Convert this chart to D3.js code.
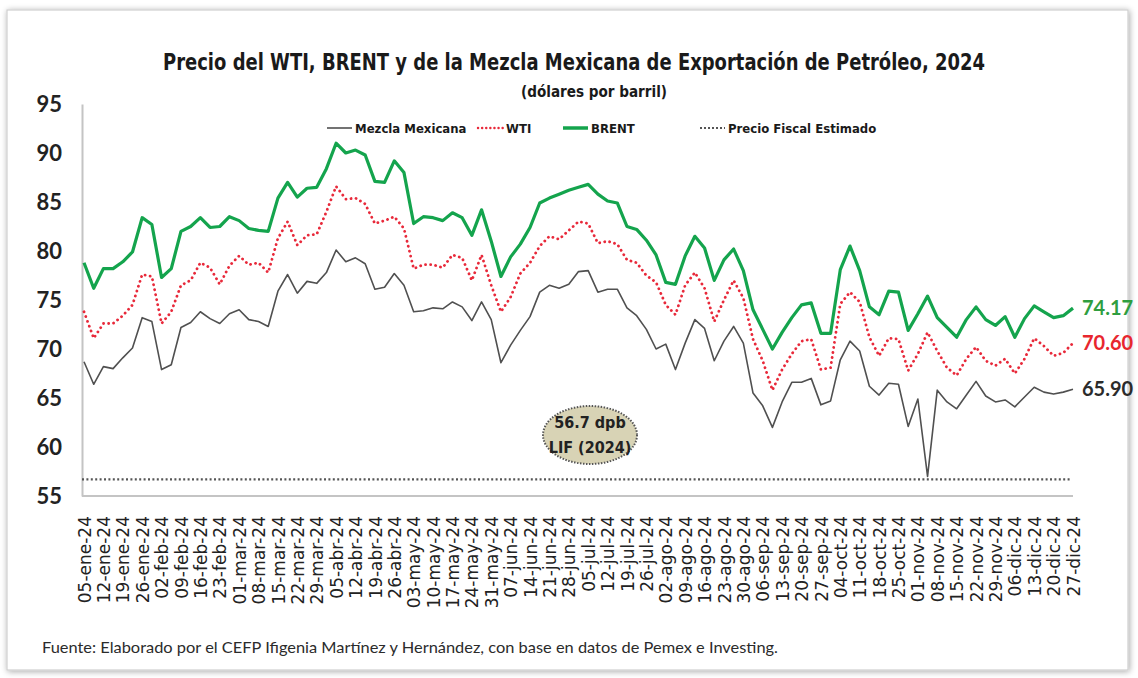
<!DOCTYPE html>
<html>
<head>
<meta charset="utf-8">
<script src="https://cdn.jsdelivr.net/npm/d3@7"></script>
<style>
  body { margin: 0; background: #fff; }
  svg { display: block; }
</style>
</head>
<body>
<div id="chart"></div>
<script>
// weekly tick labels (fridays)
var weekLabels = ["05-ene-24","12-ene-24","19-ene-24","26-ene-24","02-feb-24","09-feb-24","16-feb-24","23-feb-24",
  "01-mar-24","08-mar-24","15-mar-24","22-mar-24","29-mar-24","05-abr-24","12-abr-24","19-abr-24","26-abr-24",
  "03-may-24","10-may-24","17-may-24","24-may-24","31-may-24","07-jun-24","14-jun-24","21-jun-24","28-jun-24",
  "05-jul-24","12-jul-24","19-jul-24","26-jul-24","02-ago-24","09-ago-24","16-ago-24","23-ago-24","30-ago-24",
  "06-sep-24","13-sep-24","20-sep-24","27-sep-24","04-oct-24","11-oct-24","18-oct-24","25-oct-24",
  "01-nov-24","08-nov-24","15-nov-24","22-nov-24","29-nov-24","06-dic-24","13-dic-24","20-dic-24","27-dic-24"];

// yTicks
var yTicks = [55, 60, 65, 70, 75, 80, 85, 90, 95];

// prices, two readings per week (week 0, 0.5, 1, ... 51)
var brent = [78.8,76.2,78.2,78.2,78.9,79.9,83.4,82.7,77.3,78.2,82.0,82.5,83.4,82.4,82.5,83.5,83.1,82.3,82.1,82.0,
  85.4,87.0,85.5,86.4,86.5,88.4,91.0,90.0,90.3,89.8,87.1,87.0,89.2,88.0,82.8,83.5,83.4,83.1,83.9,83.4,
  81.6,84.2,81.0,77.4,79.4,80.7,82.4,84.9,85.4,85.8,86.2,86.5,86.8,85.8,85.1,84.9,82.5,82.2,81.1,79.6,
  76.8,76.6,79.5,81.5,80.3,77.0,79.1,80.2,78.0,74.0,72.0,70.0,71.7,73.2,74.5,74.7,71.6,71.6,78.1,80.5,
  78.0,74.3,73.5,75.9,75.8,71.9,73.6,75.4,73.2,72.2,71.2,73.0,74.3,73.0,72.4,73.3,71.2,73.1,74.4,73.8,
  73.2,73.4,74.17];

var wti = [73.8,71.1,72.6,72.6,73.4,74.5,77.6,77.4,72.6,73.8,76.5,77.0,78.8,78.3,76.6,78.5,79.5,78.6,78.8,77.8,
  81.3,83.0,80.6,81.6,81.7,84.0,86.6,85.3,85.4,84.8,82.8,83.1,83.5,82.3,78.2,78.6,78.6,78.3,79.6,79.3,
  77.0,79.6,76.5,73.8,75.3,77.7,78.8,80.5,81.5,81.2,82.1,83.0,82.8,80.8,81.0,80.7,79.1,78.8,77.5,76.8,
  74.5,73.5,76.5,77.8,76.2,72.8,75.0,77.0,75.2,71.0,68.8,65.8,67.9,69.5,70.8,71.0,67.9,68.1,74.6,75.8,
  74.8,71.2,69.3,71.1,71.0,67.8,69.5,71.7,69.8,68.1,67.3,69.0,70.2,68.8,68.3,69.0,67.5,69.0,71.1,70.3,
  69.3,69.6,70.60];

var mezcla = [68.7,66.4,68.2,68.0,69.1,70.1,73.2,72.8,67.9,68.4,72.2,72.7,73.8,73.1,72.6,73.6,74.0,73.0,72.8,72.3,
  75.9,77.6,75.7,76.9,76.7,77.8,80.1,78.9,79.3,78.7,76.1,76.3,77.7,76.5,73.8,73.9,74.2,74.1,74.8,74.3,
  72.9,74.8,73.0,68.6,70.4,71.9,73.3,75.8,76.5,76.2,76.6,77.9,78.0,75.8,76.1,76.1,74.2,73.4,72.0,70.0,
  70.5,67.9,70.6,73.0,72.1,68.8,70.8,72.3,70.6,65.5,64.2,62.0,64.6,66.6,66.6,67.0,64.3,64.7,68.9,70.8,
  69.8,66.2,65.3,66.5,66.4,62.1,64.9,57.0,65.8,64.6,63.9,65.3,66.7,65.2,64.6,64.8,64.1,65.1,66.1,65.6,
  65.4,65.6,65.90];

var precioFiscal = 56.7;

var width = 1138, height = 678;

var svg = d3.select("#chart").append("svg")
  .attr("width", width)
  .attr("height", height);

// soft frame around the chart
var defs = svg.append("defs");
var f = defs.append("filter").attr("id", "shadow").attr("x", "-5%").attr("y", "-5%").attr("width", "110%").attr("height", "110%");
f.append("feGaussianBlur").attr("in", "SourceAlpha").attr("stdDeviation", 3);
f.append("feOffset").attr("dx", 1).attr("dy", 1).attr("result", "b");
f.append("feComponentTransfer").append("feFuncA").attr("type", "linear").attr("slope", 0.35);
var fm = f.append("feMerge");
fm.append("feMergeNode");
fm.append("feMergeNode").attr("in", "SourceGraphic");

svg.append("rect")
  .attr("x", 7).attr("y", 10).attr("width", 1121).attr("height", 660)
  .attr("fill", "#fff").attr("stroke", "#cfcfcf").attr("stroke-width", 1.2)
  .attr("filter", "url(#shadow)");

var xScale = d3.scaleLinear().domain([0, weekLabels.length - 1]).range([84, 1073]);
var yScale = d3.scaleLinear().domain([55, 95]).range([496, 104]);

// title
svg.append("text")
  .attr("x", 574).attr("y", 70)
  .attr("text-anchor", "middle")
  .attr("textLength", 822).attr("lengthAdjust", "spacingAndGlyphs")
  .style("font-family", "'Liberation Sans Narrow','DejaVu Sans Condensed',sans-serif")
  .style("font-weight", "bold").style("font-size", "23px").style("fill", "#1a1a1a")
  .text("Precio del WTI, BRENT y de la Mezcla Mexicana de Exportación de Petróleo, 2024");

svg.append("text")
  .attr("x", 594).attr("y", 97)
  .attr("text-anchor", "middle")
  .attr("textLength", 146).attr("lengthAdjust", "spacingAndGlyphs")
  .style("font-family", "'Liberation Sans Narrow','DejaVu Sans Condensed',sans-serif")
  .style("font-weight", "bold").style("font-size", "15px").style("fill", "#1a1a1a")
  .text("(dólares por barril)");

// axes
var leftAxis = d3.axisLeft(yScale).tickValues(yTicks).tickSize(0).tickPadding(20);
var yAxisG = svg.append("g").attr("transform", "translate(82,0)").call(leftAxis);
yAxisG.select(".domain").attr("stroke", "#c4c4c4").attr("stroke-width", 2);
yAxisG.selectAll("text")
  .style("font-family", "Lato, 'Open Sans', sans-serif")
  .style("font-weight", "bold").style("font-size", "22px").style("fill", "#222");

var bottomAxis = d3.axisBottom(xScale)
  .tickValues(d3.range(weekLabels.length))
  .tickFormat(i => weekLabels[i])
  .tickSize(0).tickSizeOuter(0);
var xAxisG = svg.append("g").attr("transform", "translate(0,496)").call(bottomAxis);
xAxisG.select(".domain").attr("d", "M82,0H1073").attr("stroke", "#c4c4c4").attr("stroke-width", 2);
xAxisG.selectAll("text")
  .attr("transform", "rotate(-90)")
  .attr("x", -20).attr("y", 0).attr("dy", "0.36em")
  .style("text-anchor", "end")
  .style("font-family", "'DejaVu Sans', Verdana, sans-serif")
  .style("font-size", "17px").style("fill", "#222");

// fiscal price line
svg.append("line")
  .attr("x1", xScale(0) - 2).attr("x2", xScale(weekLabels.length - 1) - 2)
  .attr("y1", yScale(precioFiscal)).attr("y2", yScale(precioFiscal))
  .attr("stroke", "#555").attr("stroke-width", 2.2)
  .attr("stroke-dasharray", "2,2.4");

// series lines
var line = d3.line()
  .x((d, i) => xScale(i / 2))
  .y(d => yScale(d));

svg.append("path").datum(mezcla)
  .attr("d", line).attr("fill", "none")
  .attr("stroke", "#505050").attr("stroke-width", 1.6).attr("stroke-linejoin", "round");

svg.append("path").datum(wti)
  .attr("d", line).attr("fill", "none")
  .attr("stroke", "#e8293a").attr("stroke-width", 2.8)
  .attr("stroke-linecap", "round").attr("stroke-dasharray", "0.1,5");

svg.append("path").datum(brent)
  .attr("d", line).attr("fill", "none")
  .attr("stroke", "#14a44d").attr("stroke-width", 3.2).attr("stroke-linejoin", "round");

// end value labels
var endLabels = [
  { v: brent[brent.length - 1], txt: "74.17", color: "#2f9e3f" },
  { v: wti[wti.length - 1], txt: "70.60", color: "#e8262e" },
  { v: mezcla[mezcla.length - 1], txt: "65.90", color: "#2b2b2b" }
];
svg.selectAll(".endlab").data(endLabels).enter().append("text")
  .attr("class", "endlab")
  .attr("x", 1082).attr("y", d => yScale(d.v))
  .attr("dy", "0.36em")
  .style("font-family", "Lato, 'Open Sans', sans-serif")
  .style("font-weight", "bold").style("font-size", "20px")
  .style("fill", d => d.color)
  .text(d => d.txt);

// legend
var legendItems = [
  { name: "Mezcla Mexicana", x: 327, color: "#505050", w: 1.6, dash: null, cap: "butt" },
  { name: "WTI", x: 478, color: "#e8293a", w: 2.4, dash: "0.1,4", cap: "round" },
  { name: "BRENT", x: 563, color: "#14a44d", w: 3.5, dash: null, cap: "butt" },
  { name: "Precio Fiscal Estimado", x: 700, color: "#555", w: 2, dash: "2,2", cap: "butt" }
];
var lg = svg.append("g").attr("transform", "translate(0,128)");
var li = lg.selectAll("g").data(legendItems).enter().append("g");
li.append("line")
  .attr("x1", d => d.x).attr("x2", d => d.x + 25)
  .attr("stroke", d => d.color).attr("stroke-width", d => d.w)
  .attr("stroke-linecap", d => d.cap)
  .attr("stroke-dasharray", d => d.dash);
li.append("text")
  .attr("x", d => d.x + 28).attr("dy", "0.35em")
  .style("font-family", "'Liberation Sans Narrow','DejaVu Sans Condensed',sans-serif")
  .style("font-weight", "bold").style("font-size", "13px").style("fill", "#1a1a1a")
  .text(d => d.name);

// LIF annotation
var ann = svg.append("g").attr("transform", "translate(590,435)");
ann.append("ellipse")
  .attr("rx", 47).attr("ry", 29)
  .attr("fill", "#d8d3b5").attr("stroke", "#555")
  .attr("stroke-width", 2).attr("stroke-dasharray", "1.5,1.5");
ann.append("text").attr("y", -7).attr("text-anchor", "middle")
  .style("font-family", "'Liberation Sans Narrow','DejaVu Sans Condensed',sans-serif")
  .style("font-weight", "bold").style("font-size", "16px").style("fill", "#222")
  .text("56.7 dpb");
ann.append("text").attr("y", 18).attr("text-anchor", "middle")
  .style("font-family", "'Liberation Sans Narrow','DejaVu Sans Condensed',sans-serif")
  .style("font-weight", "bold").style("font-size", "16px").style("fill", "#222")
  .text("LIF (2024)");

// source
svg.append("text")
  .attr("x", 42).attr("y", 653)
  .attr("textLength", 736).attr("lengthAdjust", "spacingAndGlyphs")
  .style("font-family", "Lato, 'Open Sans', sans-serif")
  .style("font-size", "15px").style("fill", "#2b2b2b")
  .text("Fuente: Elaborado por el CEFP Ifigenia Martínez y Hernández, con base en datos de Pemex e Investing.");
</script>
</body>
</html>
